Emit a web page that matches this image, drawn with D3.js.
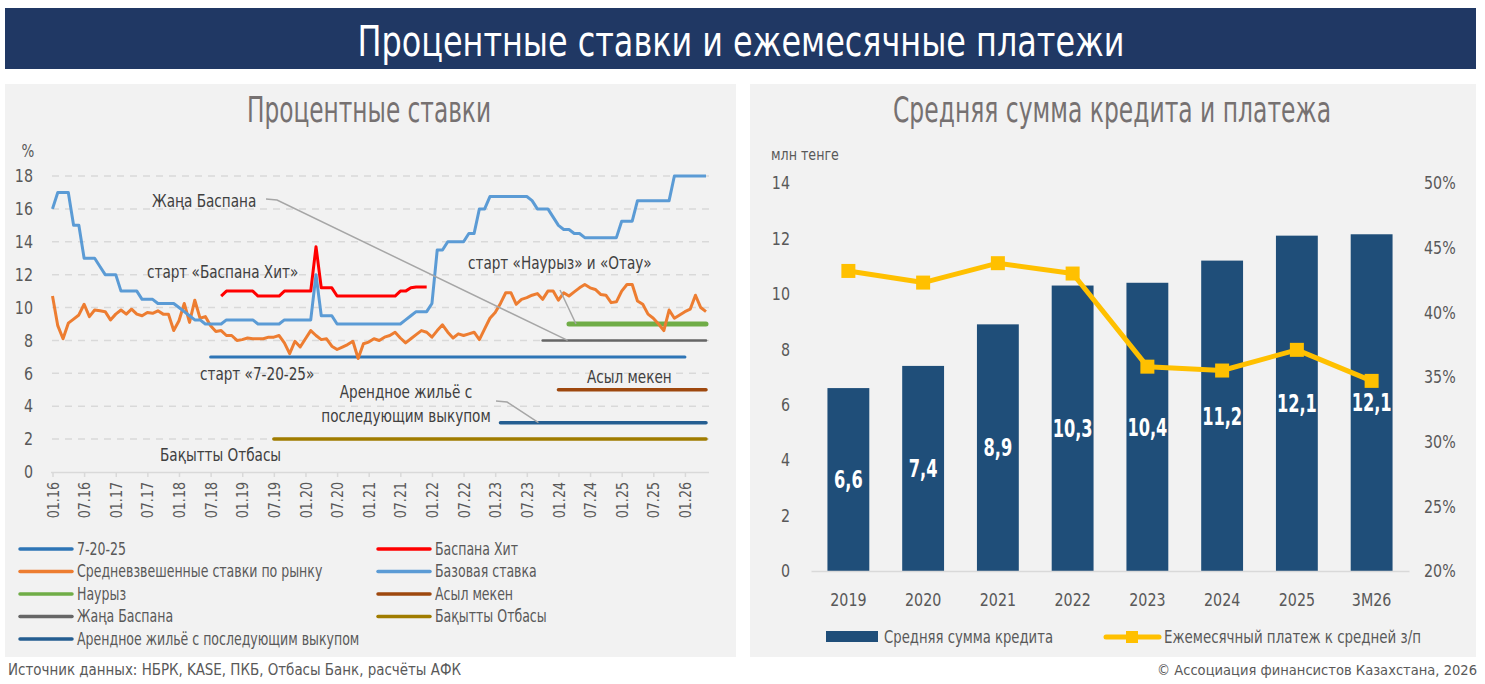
<!DOCTYPE html>
<html>
<head>
<meta charset="utf-8">
<script src="https://cdn.jsdelivr.net/npm/d3@7"></script>
<style>
  body { margin: 0; background: #ffffff; }
  svg text { font-family: "Liberation Sans Narrow", "DejaVu Sans Condensed", "Roboto Condensed", sans-serif; }
</style>
</head>
<body>
<svg id="chart" width="1485" height="684"></svg>
<script>
// -----------------------------------------------------------------------
// Data
// -----------------------------------------------------------------------

// monthly series start in 01.2016, one value per month
const FIRST_YEAR = 2016;

const TICK_LABELS = ["01.16", "07.16", "01.17", "07.17", "01.18", "07.18", "01.19", "07.19",
  "01.20", "07.20", "01.21", "07.21", "01.22", "07.22", "01.23", "07.23", "01.24", "07.24",
  "01.25", "07.25", "01.26"];

// базовая ставка
const BASE_RATE = [
  16, 17, 17, 17, 15, 15, 13, 13, 13, 12.5,
  12, 12, 12, 11, 11, 11, 11, 10.5, 10.5, 10.5,
  10.25, 10.25, 10.25, 10.25, 10, 9.75, 9.5, 9.25, 9.25, 9,
  9, 9, 9, 9.25, 9.25, 9.25, 9.25, 9.25, 9.25, 9,
  9, 9, 9, 9, 9.25, 9.25, 9.25, 9.25, 9.25, 9.25,
  12, 9.5, 9.5, 9.5, 9, 9, 9, 9, 9, 9,
  9, 9, 9, 9, 9, 9, 9, 9.25, 9.5, 9.75,
  9.75, 9.75, 10.25, 13.5, 13.5, 14, 14, 14, 14, 14.5,
  14.5, 16, 16, 16.75, 16.75, 16.75, 16.75, 16.75, 16.75, 16.75,
  16.75, 16.5, 16, 16, 16, 15.5, 15, 14.75, 14.75, 14.5,
  14.5, 14.25, 14.25, 14.25, 14.25, 14.25, 14.25, 14.25, 15.25, 15.25,
  15.25, 16.5, 16.5, 16.5, 16.5, 16.5, 16.5, 16.5, 18, 18,
  18, 18, 18, 18, 18
];

// средневзвешенные ставки по рынку
const MARKET_RATE = [
  10.7, 8.9, 8.1, 9.05, 9.3, 9.55, 10.2, 9.45, 9.85, 9.8,
  9.75, 9.25, 9.6, 9.85, 9.6, 9.9, 9.6, 9.5, 9.7, 9.65,
  9.8, 9.6, 9.6, 8.6, 9.2, 10.25, 9.1, 10.45, 9.35, 9.45,
  8.9, 8.55, 8.6, 8.3, 8.3, 8.0, 8.05, 8.15, 8.1, 8.1,
  8.1, 8.2, 8.2, 8.3, 7.85, 7.2, 7.95, 7.6, 8.1, 8.6,
  8.3, 8.05, 8.1, 7.65, 7.45, 7.6, 7.75, 7.95, 6.9, 7.8,
  7.9, 8.1, 8.0, 8.2, 8.3, 8.5, 8.15, 7.85, 8.1, 8.35,
  8.6, 8.5, 8.2, 8.6, 8.95, 8.5, 8.15, 8.4, 8.3, 8.4,
  8.5, 8.05, 8.7, 9.35, 9.7, 10.25, 10.9, 10.9, 10.2, 10.5,
  10.6, 10.75, 10.85, 10.5, 11.0, 11.0, 10.45, 10.9, 10.7, 10.95,
  11.2, 11.4, 11.2, 11.1, 10.8, 10.75, 10.3, 10.35, 11.0, 11.4,
  11.4, 10.4, 10.2, 9.6, 9.35, 9.0, 8.6, 9.85, 9.35, 9.55,
  9.75, 9.9, 10.75, 10.0, 9.75
];

// Баспана Хит, from 09.18
const BASPANA_HIT_START = "09.18";
const BASPANA_HIT = [
  10.7, 11, 11, 11, 11, 11, 11, 10.7, 10.7, 10.7,
  10.7, 10.7, 11, 11, 11, 11, 11, 11, 13.7, 11.2,
  11.2, 11.2, 10.7, 10.7, 10.7, 10.7, 10.7, 10.7, 10.7, 10.7,
  10.7, 10.7, 10.7, 10.7, 11, 11, 11.2, 11.25, 11.25, 11.25
];

// state programmes with a fixed rate
const PROGRAMS = [
  { key: "7-20-25", rate: 7, from: "07.18", to: "01.26", color: "#2e75b6", width: 3 },
  { key: "Наурыз", rate: 9, from: "03.24", to: "05.26", color: "#70ad47", width: 5 },
  { key: "Жаңа Баспана", rate: 8, from: "10.23", to: "05.26", color: "#666666", width: 2.5 },
  { key: "Асыл мекен", rate: 5, from: "01.24", to: "05.26", color: "#9e480e", width: 3.5 },
  { key: "Арендное жильё с последующим выкупом", rate: 3, from: "02.23", to: "05.26", color: "#255e91", width: 3.5 },
  { key: "Бақытты Отбасы", rate: 2, from: "07.19", to: "05.26", color: "#a07c00", width: 3.5 }
];

const RATE_TICKS = [0, 2, 4, 6, 8, 10, 12, 14, 16, 18];

// right chart
const YEARS = ["2019", "2020", "2021", "2022", "2023", "2024", "2025", "3М26"];
const AVG_LOAN = [6.6, 7.4, 8.9, 10.3, 10.4, 11.2, 12.1, 12.15];
const AVG_LOAN_LABELS = ["6,6", "7,4", "8,9", "10,3", "10,4", "11,2", "12,1", "12,1"];
const PAYMENT_SHARE = [43.2, 42.3, 43.8, 43.0, 35.8, 35.5, 37.1, 34.7];
const LOAN_TICKS = [0, 2, 4, 6, 8, 10, 12, 14];
const SHARE_TICKS = [20, 25, 30, 35, 40, 45, 50];

// -----------------------------------------------------------------------
// Constants
// -----------------------------------------------------------------------

const TEXT = "#595959";
const GRID = "#d9d9d9";
const PANEL = "#f2f2f2";
const NAVY = "#203864";
const BAR = "#1f4e79";
const GOLD = "#ffc000";

// the original uses a narrow font, so every text gets squeezed horizontally
const SQUEEZE = 0.88;

const svg = d3.select("#chart");

// month keys "MM.YY" for every month from 01.16 on
const MONTHS = MARKET_RATE.map((d, i) => {
  const m = (i % 12) + 1;
  const y = (FIRST_YEAR + Math.floor(i / 12)) % 100;
  return String(m).padStart(2, "0") + "." + String(y).padStart(2, "0");
});

// -----------------------------------------------------------------------
// Frame
// -----------------------------------------------------------------------

svg.append("rect").attr("x", 5).attr("y", 8).attr("width", 1471).attr("height", 61).attr("fill", NAVY);
svg.append("text")
  .attr("x", 741).attr("y", 56)
  .attr("text-anchor", "middle")
  .attr("font-size", 42)
  .attr("fill", "#ffffff")
  .attr("data-width", 767)
  .text("Процентные ставки и ежемесячные платежи");

svg.append("rect").attr("x", 5).attr("y", 84).attr("width", 731).attr("height", 573).attr("fill", PANEL);
svg.append("rect").attr("x", 750).attr("y", 84).attr("width", 726).attr("height", 573).attr("fill", PANEL);

svg.append("text")
  .attr("x", 369).attr("y", 122)
  .attr("text-anchor", "middle")
  .attr("font-size", 35)
  .attr("fill", "#767171")
  .attr("data-width", 244)
  .text("Процентные ставки");

svg.append("text")
  .attr("x", 1112).attr("y", 122)
  .attr("text-anchor", "middle")
  .attr("font-size", 35)
  .attr("fill", "#767171")
  .attr("data-width", 438)
  .text("Средняя сумма кредита и платежа");

svg.append("text")
  .attr("x", 8).attr("y", 675)
  .attr("font-size", 16)
  .attr("fill", TEXT)
  .attr("data-width", 453)
  .text("Источник данных: НБРК, KASE, ПКБ, Отбасы Банк, расчёты АФК");

svg.append("text")
  .attr("x", 1157).attr("y", 675)
  .attr("font-size", 14)
  .attr("fill", TEXT)
  .attr("data-width", 320)
  .text("© Ассоциация финансистов Казахстана, 2026");

// -----------------------------------------------------------------------
// Left chart: rates
// -----------------------------------------------------------------------

const xScale = d3.scalePoint().domain(MONTHS).range([52.5, 706]);
const yScale = d3.scaleLinear().domain([0, 18]).range([472, 176]);

const left = svg.append("g").attr("class", "rates");

// dashed grid
left.append("g")
  .selectAll("line")
  .data(RATE_TICKS.filter(d => d > 0))
  .join("line")
  .attr("x1", 52).attr("x2", 709)
  .attr("y1", d => yScale(d)).attr("y2", d => yScale(d))
  .attr("stroke", GRID)
  .attr("stroke-width", 1.5)
  .attr("stroke-dasharray", "7,6");

// y axis
const yAxis = left.append("g")
  .attr("transform", "translate(33,0)")
  .call(d3.axisLeft(yScale).tickValues(RATE_TICKS).tickSize(0).tickPadding(0));
yAxis.select(".domain").remove();
yAxis.selectAll("text").attr("font-size", 18).attr("fill", TEXT).attr("font-family", null);

left.append("text")
  .attr("x", 28).attr("y", 157)
  .attr("text-anchor", "middle")
  .attr("font-size", 17)
  .attr("fill", TEXT)
  .text("%");

// x axis
const xAxis = left.append("g")
  .attr("transform", `translate(0,${yScale(0)})`)
  .call(d3.axisBottom(xScale).tickValues(TICK_LABELS).tickSize(5).tickSizeOuter(0));
xAxis.select(".domain")
  .attr("d", `M51,0.5H${xScale.range()[1] + 3}`)
  .attr("stroke", GRID)
  .attr("stroke-width", 1.5);
xAxis.selectAll(".tick line").attr("stroke", GRID).attr("stroke-width", 1.5);
xAxis.selectAll(".tick text")
  .attr("font-size", 16)
  .attr("font-family", null)
  .attr("fill", TEXT)
  .attr("text-anchor", "end")
  .attr("transform", "rotate(-90)")
  .attr("x", -10)
  .attr("y", 0)
  .attr("dy", "0.35em");

const line = d3.line()
  .x(d => xScale(d.month))
  .y(d => yScale(d.value));

const monthIndex = key => MONTHS.indexOf(key);

// programme lines with a fixed rate
left.append("g")
  .selectAll("path")
  .data(PROGRAMS)
  .join("path")
  .attr("fill", "none")
  .attr("stroke", d => d.color)
  .attr("stroke-width", d => d.width)
  .attr("stroke-linecap", "round")
  .attr("d", d => line(MONTHS
    .slice(monthIndex(d.from), monthIndex(d.to) + 1)
    .map(m => ({ month: m, value: d.rate }))));

// market rate, base rate and Baspana Hit
const hitStart = monthIndex(BASPANA_HIT_START);
const series = [
  { color: "#ed7d31", values: MARKET_RATE.map((v, i) => ({ month: MONTHS[i], value: v })) },
  { color: "#5b9bd5", values: BASE_RATE.map((v, i) => ({ month: MONTHS[i], value: v })) },
  { color: "#ff0000", values: BASPANA_HIT.map((v, i) => ({ month: MONTHS[hitStart + i], value: v })) }
];

left.append("g")
  .selectAll("path")
  .data(series)
  .join("path")
  .attr("fill", "none")
  .attr("stroke", d => d.color)
  .attr("stroke-width", 3)
  .attr("stroke-linejoin", "round")
  .attr("d", d => line(d.values));

// annotations
const notes = left.append("g")
  .attr("font-size", 18)
  .attr("fill", "#404040");

const note = (x, y, label, anchor) => notes.append("text")
  .attr("x", x).attr("y", y)
  .attr("text-anchor", anchor || "start")
  .attr("data-squeeze", 0.84)
  .text(label);

const leader = (points) => notes.append("path")
  .attr("d", d3.line()(points))
  .attr("fill", "none")
  .attr("stroke", "#a6a6a6")
  .attr("stroke-width", 1.5);

note(152, 207, "Жаңа Баспана");
leader([[266, 199], [277, 200], [xScale("10.23") + 25, yScale(8)]]);

note(147, 278, "старт «Баспана Хит»");

note(468, 269, "старт «Наурыз» и «Отау»");
leader([[560, 290], [xScale("03.24") + 7, yScale(9)]]);

note(200, 380, "старт «7-20-25»");
note(587, 383, "Асыл мекен");

note(406, 398, "Арендное жильё с", "middle");
note(406, 422, "последующим выкупом", "middle");
leader([[496, 401], [507, 402], [xScale("02.23") + 38, yScale(3)]]);

note(160, 461, "Бақытты Отбасы");

// legend
const LEGEND_LEFT = [
  { key: "7-20-25", color: "#2e75b6" },
  { key: "Баспана Хит", color: "#ff0000" },
  { key: "Средневзвешенные ставки по рынку", color: "#ed7d31" },
  { key: "Базовая ставка", color: "#5b9bd5" },
  { key: "Наурыз", color: "#70ad47" },
  { key: "Асыл мекен", color: "#9e480e" },
  { key: "Жаңа Баспана", color: "#666666" },
  { key: "Бақытты Отбасы", color: "#a07c00" },
  { key: "Арендное жильё с последующим выкупом", color: "#255e91" }
];

const legendRow = left.append("g")
  .selectAll("g")
  .data(LEGEND_LEFT)
  .join("g")
  .attr("transform", (d, i) => `translate(${i % 2 === 0 ? 20 : 378},${549 + Math.floor(i / 2) * 22.5})`);

legendRow.append("line")
  .attr("x1", 0).attr("x2", 52)
  .attr("stroke", d => d.color)
  .attr("stroke-width", 3.5)
  .attr("stroke-linecap", "round");

legendRow.append("text")
  .attr("x", 57).attr("dy", "0.35em")
  .attr("font-size", 17)
  .attr("fill", TEXT)
  .attr("data-squeeze", 0.82)
  .text(d => d.key);

// -----------------------------------------------------------------------
// Right chart: average loan and payment
// -----------------------------------------------------------------------

const xBand = d3.scaleBand().domain(YEARS).range([811, 1409]).paddingInner(0.44).paddingOuter(0.22);
const yLoan = d3.scaleLinear().domain([0, 14]).range([571, 183]);
const yShare = d3.scaleLinear().domain([20, 50]).range([571, 183]);

const right = svg.append("g").attr("class", "loans");

right.append("text")
  .attr("x", 771).attr("y", 160)
  .attr("font-size", 16)
  .attr("fill", TEXT)
  .text("млн тенге");

const yLeft = right.append("g")
  .attr("transform", "translate(790,0)")
  .call(d3.axisLeft(yLoan).tickValues(LOAN_TICKS).tickSize(0).tickPadding(0));
yLeft.select(".domain").remove();
yLeft.selectAll("text").attr("font-size", 18).attr("fill", TEXT).attr("font-family", null);

const yRight = right.append("g")
  .attr("transform", "translate(1424,0)")
  .call(d3.axisRight(yShare).tickValues(SHARE_TICKS).tickSize(0).tickPadding(0).tickFormat(d => d + "%"));
yRight.select(".domain").remove();
yRight.selectAll("text").attr("font-size", 18).attr("fill", TEXT).attr("font-family", null);

// bars
right.append("g")
  .selectAll("rect")
  .data(AVG_LOAN)
  .join("rect")
  .attr("x", (d, i) => xBand(YEARS[i]))
  .attr("y", d => yLoan(d))
  .attr("width", xBand.bandwidth())
  .attr("height", d => yLoan(0) - yLoan(d))
  .attr("fill", BAR);

// baseline and category labels
const xBottom = right.append("g")
  .attr("transform", `translate(0,${yLoan(0)})`)
  .call(d3.axisBottom(xBand).tickSize(0).tickPadding(22));
xBottom.select(".domain").attr("stroke", GRID).attr("stroke-width", 1.5);
xBottom.selectAll("text").attr("font-size", 18).attr("fill", TEXT).attr("font-family", null);

// values inside the bars
right.append("g")
  .selectAll("text")
  .data(AVG_LOAN)
  .join("text")
  .attr("x", (d, i) => xBand(YEARS[i]) + xBand.bandwidth() / 2)
  .attr("y", d => yLoan(d / 2))
  .attr("dy", "0.35em")
  .attr("text-anchor", "middle")
  .attr("font-size", 25)
  .attr("font-weight", "bold")
  .attr("fill", "#ffffff")
  .attr("data-squeeze", 0.72)
  .text((d, i) => AVG_LOAN_LABELS[i]);

// payment to average wage
const shareLine = d3.line()
  .x((d, i) => xBand(YEARS[i]) + xBand.bandwidth() / 2)
  .y(d => yShare(d));

right.append("path")
  .datum(PAYMENT_SHARE)
  .attr("d", shareLine)
  .attr("fill", "none")
  .attr("stroke", GOLD)
  .attr("stroke-width", 5)
  .attr("stroke-linejoin", "round");

right.append("g")
  .selectAll("rect")
  .data(PAYMENT_SHARE)
  .join("rect")
  .attr("x", (d, i) => xBand(YEARS[i]) + xBand.bandwidth() / 2 - 7)
  .attr("y", d => yShare(d) - 7)
  .attr("width", 14)
  .attr("height", 14)
  .attr("fill", GOLD);

// legend
right.append("rect")
  .attr("x", 826).attr("y", 631)
  .attr("width", 52).attr("height", 11)
  .attr("fill", BAR);
right.append("text")
  .attr("x", 884).attr("y", 637).attr("dy", "0.35em")
  .attr("font-size", 18)
  .attr("fill", TEXT)
  .attr("data-width", 169)
  .text("Средняя сумма кредита");

right.append("line")
  .attr("x1", 1106).attr("x2", 1159)
  .attr("y1", 637).attr("y2", 637)
  .attr("stroke", GOLD)
  .attr("stroke-width", 5)
  .attr("stroke-linecap", "round");
right.append("rect")
  .attr("x", 1126).attr("y", 631)
  .attr("width", 12).attr("height", 12)
  .attr("fill", GOLD);
right.append("text")
  .attr("x", 1164).attr("y", 637).attr("dy", "0.35em")
  .attr("font-size", 18)
  .attr("fill", TEXT)
  .attr("data-width", 257)
  .text("Ежемесячный платеж к средней з/п");

// -----------------------------------------------------------------------
// Narrow the text to look like the condensed original font
// -----------------------------------------------------------------------

svg.selectAll("text").each(function () {
  const natural = this.getComputedTextLength();
  const target = this.dataset.width
    ? +this.dataset.width
    : natural * (this.dataset.squeeze ? +this.dataset.squeeze : SQUEEZE);
  this.setAttribute("textLength", target);
  this.setAttribute("lengthAdjust", "spacingAndGlyphs");
});
</script>
</body>
</html>
